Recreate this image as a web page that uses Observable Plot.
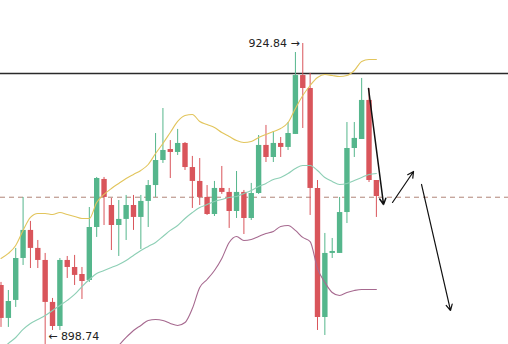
<!DOCTYPE html>
<html>
<head>
<meta charset="utf-8">
<script src="https://cdn.jsdelivr.net/npm/d3@7"></script>
<script src="https://cdn.jsdelivr.net/npm/@observablehq/plot@0.6"></script>
<style>
  html, body { margin: 0; padding: 0; background: #ffffff; }
  #chart { width: 508px; height: 344px; overflow: hidden; }
</style>
</head>
<body>
<div id="chart"></div>
<script>
// ---- data ----
const opens  = [904.14,901.32,902.86,906.45,908.85,907.31,906.28,902.69,900.63,906.28,
                905.68,905.08,904.57,909.10,913.21,910.98,909.27,909.79,910.98,909.96,
                911.33,912.69,914.83,915.77,915.52,916.29,914.23,913.04,911.67,910.21,
                912.44,912.10,910.47,912.10,909.87,912.01,916.12,915.09,916.29,915.95,
                917.06,922.10,920.99,912.44,901.40,906.88,906.88,910.38,915.86,916.63,
                919.97,913.12];
const highs  = [904.40,903.71,907.31,911.67,909.62,907.99,906.88,903.03,906.45,906.62,
                906.71,905.68,910.81,913.38,913.38,911.58,911.41,911.84,911.84,911.84,
                913.12,917.14,919.28,916.54,917.49,916.37,915.18,915.00,912.69,913.04,
                914.32,912.44,913.89,912.27,912.87,916.97,917.83,917.31,916.80,918.08,
                924.07,924.84,922.28,913.12,908.59,908.16,911.67,918.08,918.08,921.85,
                920.99,913.12];
const lows   = [900.55,900.55,902.26,905.85,905.59,905.59,898.74,900.29,900.29,904.74,
                904.14,902.94,904.40,908.25,909.27,907.13,906.62,907.99,908.85,907.22,
                909.10,911.67,914.58,913.29,915.26,913.98,910.73,910.98,910.13,910.04,
                911.93,909.02,909.87,908.50,909.70,911.93,914.66,914.66,915.09,915.69,
                917.06,917.57,910.13,900.29,899.86,906.45,906.88,909.44,915.09,916.63,
                912.95,909.96];
const closes = [901.32,902.77,906.45,908.85,907.31,906.28,902.69,900.63,906.28,905.68,
                905.00,904.48,909.10,913.29,911.67,909.27,909.79,910.98,909.96,911.33,
                912.69,914.83,915.69,915.52,916.29,914.23,913.04,911.67,910.21,912.44,
                912.10,910.47,912.10,909.87,912.01,916.12,915.09,916.29,915.95,917.14,
                922.10,920.99,912.44,901.40,906.88,907.05,910.38,915.86,916.72,919.97,
                913.12,911.75];

const bandUpper = [906.45,906.88,907.56,908.85,909.96,910.30,910.30,910.21,910.38,910.21,
                   910.04,909.87,909.87,911.24,911.93,912.44,912.87,913.29,913.64,913.98,
                   914.49,915.43,916.29,917.23,918.17,918.68,918.77,918.17,917.91,917.66,
                   917.23,916.89,916.54,916.37,916.46,916.80,917.06,917.31,917.57,918.08,
                   919.28,920.39,921.25,921.93,922.19,922.10,922.02,922.10,922.53,923.30,
                   923.47,923.47];
const bandMiddle = [898.67,899.18,899.69,900.38,900.89,901.23,901.57,902.00,902.43,902.86,
                    903.37,904.05,904.65,905.17,905.42,905.68,905.94,906.28,906.71,907.13,
                    907.48,907.82,908.33,908.85,909.27,909.87,910.38,910.81,911.07,911.33,
                    911.50,911.67,911.75,912.01,912.27,912.61,912.87,913.21,913.38,913.72,
                    914.15,914.41,914.41,913.98,913.38,913.04,912.78,912.87,913.12,913.38,
                    913.64,913.72];
const lowerStart = 16;
const bandLower  = [899.01,899.69,900.29,900.72,901.15,901.23,901.15,900.89,900.72,900.97,
                    902.17,903.97,904.65,905.42,906.45,907.82,908.33,907.99,908.08,908.33,
                    908.59,908.76,909.19,909.27,908.85,908.25,907.90,905.59,904.40,903.54,
                    903.28,903.54,903.71,903.80,903.80,903.80];

const resistanceLevel = 922.28;
const supportLevel = 911.69;

// hand-drawn arrows (bar index, price)
const arrowX1 = [49.93, 53.19, 57.13];
const arrowY1 = [920.99, 911.24, 912.78];
const arrowX2 = [51.97, 56.05, 61.07];
const arrowY2 = [911.07, 913.89, 902.00];

// ---- build tables ----
const candles = opens.map((o, i) => ({
  i, open: o, high: highs[i], low: lows[i], close: closes[i], up: closes[i] >= o
}));
const upperLine = bandUpper.map((v, i) => ({i, v}));
const middleLine = bandMiddle.map((v, i) => ({i, v}));
const lowerLine = bandLower.map((v, k) => ({i: k + lowerStart, v}));
const arrows = arrowX1.map((x1, k) => ({x1, y1: arrowY1[k], x2: arrowX2[k], y2: arrowY2[k], w: k === 0 ? 1.5 : 1.2}));

const hiIdx = d3.maxIndex(highs);
const loIdx = d3.minIndex(lows);
const hiLabel = [{i: hiIdx, p: highs[hiIdx], text: highs[hiIdx].toFixed(2) + " \u2192"}];
const loLabel = [{i: loIdx, p: lows[loIdx], text: "\u2190 " + lows[loIdx].toFixed(2)}];

const GREEN = "#55b68c";
const RED = "#d9555b";
const LABEL_FONT = "'DejaVu Sans', sans-serif";

const chart = Plot.plot({
  width: 508,
  height: 344,
  margin: 0,
  style: {background: "#ffffff", fontFamily: LABEL_FONT},
  x: {type: "linear", domain: [0, 68.95], range: [0.5, 508], axis: null},
  y: {type: "linear", domain: [899.09, 928.52], range: [344, 0], axis: null},
  marks: [
    Plot.ruleY([resistanceLevel], {stroke: "#2a2a2a", strokeWidth: 1.6}),
    Plot.ruleY([supportLevel], {stroke: "#b08478", strokeWidth: 1, strokeDasharray: "5,4"}),
    Plot.ruleX(candles, {x: "i", y1: "low", y2: "high", stroke: d => d.up ? GREEN : RED, strokeWidth: 1}),
    Plot.ruleX(candles, {x: "i", y1: "open", y2: "close", stroke: d => d.up ? GREEN : RED, strokeWidth: 5.4}),
    Plot.line(upperLine, {x: "i", y: "v", stroke: "#e2c55c", strokeWidth: 1.1, curve: "monotone-x", clip: true}),
    Plot.line(middleLine, {x: "i", y: "v", stroke: "#8dcfb5", strokeWidth: 1.1, curve: "monotone-x", clip: true}),
    Plot.line(lowerLine, {x: "i", y: "v", stroke: "#a6698f", strokeWidth: 1.1, curve: "monotone-x", clip: true}),
    Plot.arrow(arrows, {x1: "x1", y1: "y1", x2: "x2", y2: "y2", stroke: "#111", strokeWidth: d => d.w, headLength: 10, headAngle: 55}),
    Plot.text(hiLabel, {x: "i", y: "p", text: "text", textAnchor: "end", dx: -3, fontSize: 11, fontFamily: LABEL_FONT, fill: "#222"}),
    Plot.text(loLabel, {x: "i", y: "p", text: "text", textAnchor: "start", dx: 3, dy: -12, fontSize: 11, fontFamily: LABEL_FONT, fill: "#222"})
  ]
});
document.getElementById("chart").appendChild(chart);
</script>
</body>
</html>
